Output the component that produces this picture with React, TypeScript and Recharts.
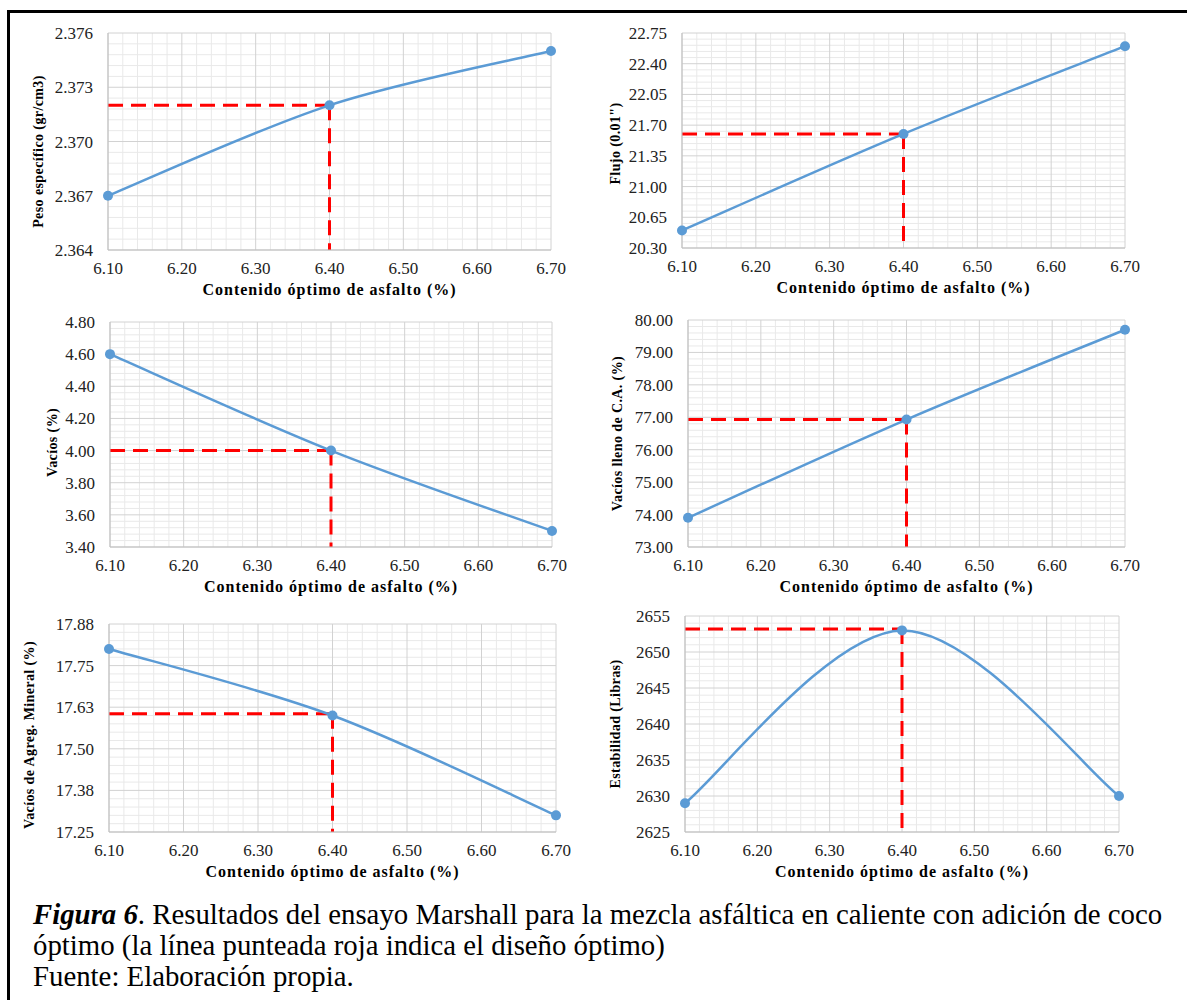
import React from "react";
import { LineChart, Line, XAxis, YAxis, CartesianGrid } from "recharts";

// contenido de asfalto (%) de las briquetas ensayadas
const asphaltContent = [6.1, 6.4, 6.7];
const xTicks = [6.1, 6.2, 6.3, 6.4, 6.5, 6.6, 6.7];
const optimumAsphalt = 6.4;

const pesoEspecifico = [2.367, 2.372, 2.375];
const pesoTicks = [2.364, 2.367, 2.37, 2.373, 2.376];
const pesoOptimo = 2.372;

const flujo = [20.5, 21.6, 22.6];
const flujoTicks = [20.3, 20.65, 21.0, 21.35, 21.7, 22.05, 22.4, 22.75];
const flujoOptimo = 21.6;

const vacios = [4.6, 4.0, 3.5];
const vaciosTicks = [3.4, 3.6, 3.8, 4.0, 4.2, 4.4, 4.6, 4.8];
const vaciosOptimo = 4.0;

const vfa = [73.9, 76.93, 79.7];
const vfaTicks = [73, 74, 75, 76, 77, 78, 79, 80];
const vfaOptimo = 76.93;

const vma = [17.8, 17.6, 17.3];
const vmaTicks = [17.25, 17.375, 17.5, 17.625, 17.75, 17.875];
const vmaOptimo = 17.605;

const estabilidad = [2629, 2653, 2630];
const estabilidadTicks = [2625, 2630, 2635, 2640, 2645, 2650, 2655];
const estabilidadOptimo = 2653.2;

const BLUE = "#5B9BD5";
const RED = "#FF0000";
const SERIF = "'Liberation Serif', 'Times New Roman', serif";
const MINOR_DIVS = 5;

// Excel-style smoothed line (Catmull-Rom as cubic beziers)
function excelSmooth(context: any) {
  let pts: number[][] = [];
  return {
    areaStart() {},
    areaEnd() {},
    lineStart() {
      pts = [];
    },
    point(x: number, y: number) {
      pts.push([+x, +y]);
    },
    lineEnd() {
      const n = pts.length;
      if (!n) return;
      context.moveTo(pts[0][0], pts[0][1]);
      for (let i = 0; i < n - 1; i++) {
        const p0 = pts[Math.max(i - 1, 0)];
        const p1 = pts[i];
        const p2 = pts[i + 1];
        const p3 = pts[Math.min(i + 2, n - 1)];
        context.bezierCurveTo(
          p1[0] + (p2[0] - p0[0]) / 6,
          p1[1] + (p2[1] - p0[1]) / 6,
          p2[0] - (p3[0] - p1[0]) / 6,
          p2[1] - (p3[1] - p1[1]) / 6,
          p2[0],
          p2[1]
        );
      }
    },
  };
}

function subdivide(ticks: number[]) {
  const out: number[] = [];
  for (let i = 0; i < ticks.length - 1; i++) {
    const step = (ticks[i + 1] - ticks[i]) / MINOR_DIVS;
    for (let k = 1; k < MINOR_DIVS; k++) out.push(ticks[i] + step * k);
  }
  return out;
}

interface PanelProps {
  values: number[];
  yTicks: number[];
  optimum: number;
  decimals: number;
  yTitle: string;
  plot: [number, number, number, number]; // left, right, top, bottom (page px)
  yTitleX: number;
  yTitleShift?: number;
}

function Panel({ values, yTicks, optimum, decimals, yTitle, plot, yTitleX, yTitleShift = 0 }: PanelProps) {
  const [l, r, t, b] = plot;
  const padL = 100;
  const padR = 20;
  const padT = 20;
  const padB = 60;
  const xDomain = [xTicks[0], xTicks[xTicks.length - 1]];
  const yDomain = [yTicks[0], yTicks[yTicks.length - 1]];

  const data = asphaltContent.map((x, i) => ({ x, y: values[i] }));
  const hDash = [
    { x: asphaltContent[0], y: optimum },
    { x: optimumAsphalt, y: optimum },
  ];
  const vDash = [
    { x: optimumAsphalt, y: optimum },
    { x: optimumAsphalt, y: yTicks[0] },
  ];

  // minor grid: map the subdivision values through the plot-area extent
  const fallback = { top: padT, left: padL, width: r - l, height: b - t };
  const minorY = (args: any) => {
    const o = (args && args.offset) || fallback;
    return subdivide(yTicks).map(
      (v) => o.top + (o.height * (yDomain[1] - v)) / (yDomain[1] - yDomain[0])
    );
  };
  const minorX = (args: any) => {
    const o = (args && args.offset) || fallback;
    return subdivide(xTicks).map(
      (v) => o.left + (o.width * (v - xDomain[0])) / (xDomain[1] - xDomain[0])
    );
  };

  const tickStyle = { fill: "#222", fontSize: 17, fontFamily: SERIF };
  const titleStyle = {
    fill: "#000",
    fontSize: 16,
    fontWeight: 700,
    fontFamily: SERIF,
    letterSpacing: 1,
  };

  const titleCx = yTitleX - (l - padL);
  const titleCy = padT + (b - t) / 2 + yTitleShift;
  const renderYTitle = () => (
    <text
      transform={`translate(${titleCx},${titleCy}) rotate(-90)`}
      textAnchor="middle"
      dominantBaseline="central"
      fill="#000"
      fontSize={14}
      fontWeight={700}
      fontFamily={SERIF}
      letterSpacing={0.4}
    >
      {yTitle}
    </text>
  );

  return (
    <div style={{ position: "absolute", left: l - padL, top: t - padT }}>
      <LineChart
        width={r - l + padL + padR}
        height={b - t + padT + padB}
        margin={{ top: padT, right: padR, bottom: 0, left: 0 }}
      >
        <CartesianGrid
          horizontalCoordinatesGenerator={minorY}
          verticalCoordinatesGenerator={minorX}
          stroke="#e9e9e9"
        />
        <CartesianGrid stroke="#d2d2d2" />
        <XAxis
          type="number"
          dataKey="x"
          domain={xDomain}
          ticks={xTicks}
          interval={0}
          height={padB}
          tickFormatter={(v: number) => v.toFixed(2)}
          tickLine={false}
          tickSize={0}
          tickMargin={12}
          axisLine={{ stroke: "#bfbfbf" }}
          tick={tickStyle}
          label={{
            value: "Contenido óptimo de asfalto (%)",
            position: "insideBottom",
            offset: 15,
            style: titleStyle,
          }}
        />
        <YAxis
          type="number"
          domain={yDomain}
          ticks={yTicks}
          interval={0}
          width={padL}
          tickFormatter={(v: number) => v.toFixed(decimals)}
          tickLine={false}
          tickSize={0}
          tickMargin={15}
          axisLine={{ stroke: "#bfbfbf" }}
          tick={tickStyle}
          label={{ value: yTitle, position: "insideLeft", content: renderYTitle }}
        />
        <Line data={hDash} dataKey="y" stroke={RED} strokeWidth={3} strokeDasharray="15 8" dot={false} isAnimationActive={false} />
        <Line data={vDash} dataKey="y" stroke={RED} strokeWidth={3} strokeDasharray="15 8" dot={false} isAnimationActive={false} />
        <Line
          data={data}
          dataKey="y"
          type={excelSmooth as any}
          stroke={BLUE}
          strokeWidth={2.5}
          dot={{ r: 5, fill: BLUE, stroke: BLUE, strokeWidth: 0 }}
          activeDot={false}
          isAnimationActive={false}
        />
      </LineChart>
    </div>
  );
}

export default function App() {
  return (
    <div
      style={{
        position: "absolute",
        left: 0,
        top: 0,
        width: 1187,
        height: 1000,
        background: "#fff",
        overflow: "hidden",
        fontFamily: SERIF,
      }}
    >
      <div
        style={{
          position: "absolute",
          left: 7,
          top: 10,
          width: 1300,
          height: 1100,
          borderLeft: "3px solid #000",
          borderTop: "3px solid #000",
        }}
      />
      <Panel values={pesoEspecifico} yTicks={pesoTicks} optimum={pesoOptimo} decimals={3} yTitle="Peso específico (gr/cm3)" plot={[108, 551, 33, 250]} yTitleX={38} yTitleShift={10} />
      <Panel values={flujo} yTicks={flujoTicks} optimum={flujoOptimo} decimals={2} yTitle={'Flujo (0.01")'} plot={[682, 1125, 33, 248]} yTitleX={615} yTitleShift={3} />
      <Panel values={vacios} yTicks={vaciosTicks} optimum={vaciosOptimo} decimals={2} yTitle="Vacíos (%)" plot={[110, 552, 322, 547]} yTitleX={52} yTitleShift={8} />
      <Panel values={vfa} yTicks={vfaTicks} optimum={vfaOptimo} decimals={2} yTitle="Vacíos lleno de C.A. (%)" plot={[688, 1125, 320, 547]} yTitleX={617} />
      <Panel values={vma} yTicks={vmaTicks} optimum={vmaOptimo} decimals={2} yTitle="Vacíos de Agreg. Mineral (%)" plot={[109, 556, 624, 832]} yTitleX={29} yTitleShift={7} />
      <Panel values={estabilidad} yTicks={estabilidadTicks} optimum={estabilidadOptimo} decimals={0} yTitle="Estabilidad (Libras)" plot={[685, 1119, 616, 832]} yTitleX={615} />
      <div
        style={{
          position: "absolute",
          left: 33,
          top: 898,
          width: 1250,
          fontSize: 30,
          lineHeight: "31px",
          color: "#000",
          fontFamily: SERIF,
          transform: "scaleX(0.96)",
          transformOrigin: "0 0",
        }}
      >
        <div>
          <b>
            <i>Figura 6</i>
          </b>
          . Resultados del ensayo Marshall para la mezcla asfáltica en caliente con adición de coco
        </div>
        <div>óptimo (la línea punteada roja indica el diseño óptimo)</div>
        <div>Fuente: Elaboración propia.</div>
      </div>
    </div>
  );
}
